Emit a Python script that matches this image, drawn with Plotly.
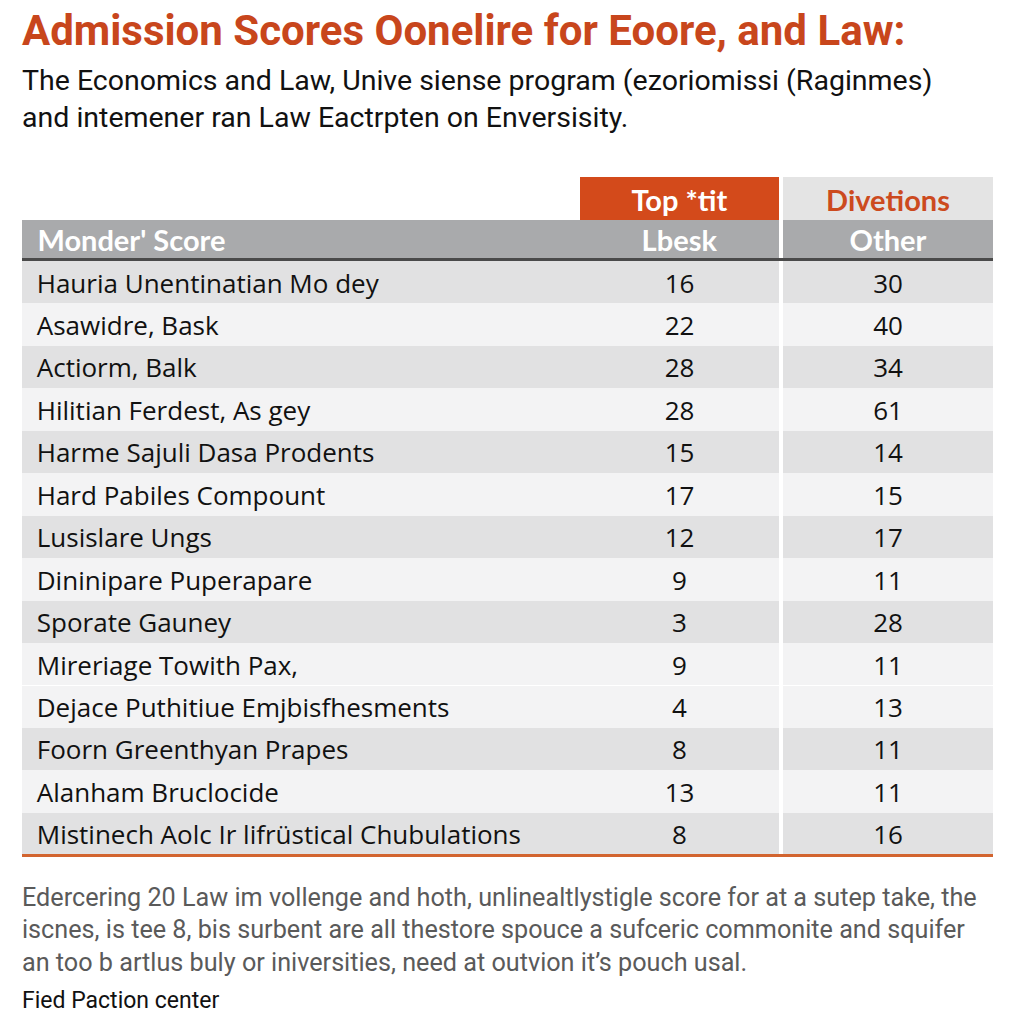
import plotly.graph_objects as go

# ---------------- data ----------------
title_text = "Admission Scores Oonelire for Eoore, and Law:"
subtitle_lines = [
    "The Economics and Law, Unive siense program (ezoriomissi (Raginmes)",
    "and intemener ran Law Eactrpten on Enversisity.",
]
super_headers = ["", "Top *tit", "", "Divetions"]
col_headers = ["Monder' Score", "Lbesk", "", "Other"]
programs = [
    "Hauria Unentinatian Mo dey",
    "Asawidre, Bask",
    "Actiorm, Balk",
    "Hilitian Ferdest, As gey",
    "Harme Sajuli Dasa Prodents",
    "Hard Pabiles Compount",
    "Lusislare Ungs",
    "Dininipare Puperapare",
    "Sporate Gauney",
    "Mireriage Towith Pax,",
    "Dejace Puthitiue Emjbisfhesments",
    "Foorn Greenthyan Prapes",
    "Alanham Bruclocide",
    "Mistinech Aolc Ir lifrüstical Chubulations",
]
lbesk_scores = [16, 22, 28, 28, 15, 17, 12, 9, 3, 9, 4, 8, 13, 8]
other_scores = [30, 40, 34, 61, 14, 15, 17, 11, 28, 11, 13, 11, 11, 16]
row_shade = ["d", "l", "d", "l", "d", "l", "d", "l", "d", "l", "l", "d", "l", "d"]
footnote_lines = [
    "Edercering 20 Law im vollenge and hoth, unlinealtlystigle score for at a sutep take, the",
    "iscnes, is tee 8, bis surbent are all thestore spouce a sufceric commonite and squifer",
    "an too b artlus buly or iniversities, need at outvion it\u2019s pouch usal.",
]
source_text = "Fied Paction center"

# ---------------- styling ----------------
W = H = 1024
ORANGE = "#d34a1b"
TITLE_ORANGE = "#c8461c"
HEAD_GRAY = "#a9aaac"
DARK = "#e1e1e2"
LIGHT = "#f3f3f4"
HEAD_FONT = "Lato"
BODY_FONT = "Open Sans"
SANS = "Roboto"
PAD = "\u00a0"
CLEAR = "rgba(0,0,0,0)"
NOLINE = dict(width=0, color=CLEAR)

def py(p):  # pixel y -> paper
    return 1 - p / H

def px(p):
    return p / W

x0, x1 = 22, 993
colwidths = [558, 199, 4, 210]
SUPER_TOP, HEAD_TOP = 177, 220
HEAD_H, ROW_H = 41, 42.45
TEXT_LIFT_MAIN, TEXT_LIFT_SUPER = 6, 3

shade_colors = [DARK if s == "d" else LIGHT for s in row_shade]
n = len(programs)
blank_col = [""] * n

fig = go.Figure()

# --- background layers (fills only) ---
fig.add_trace(go.Table(
    domain=dict(x=[px(x0), px(x1)], y=[py(875), py(HEAD_TOP)]),
    columnwidth=colwidths,
    header=dict(values=["", "", "", ""],
                fill=dict(color=[HEAD_GRAY, HEAD_GRAY, "white", HEAD_GRAY]),
                height=HEAD_H, line=NOLINE),
    cells=dict(values=[blank_col] * 4,
               fill=dict(color=[shade_colors, shade_colors, ["white"] * n, shade_colors]),
               height=ROW_H, line=NOLINE),
))
fig.add_trace(go.Table(
    domain=dict(x=[px(x0), px(x1)], y=[py(HEAD_TOP), py(SUPER_TOP)]),
    columnwidth=colwidths,
    header=dict(values=["", "", "", ""],
                fill=dict(color=["white", ORANGE, "white", "#e4e4e4"]),
                height=HEAD_TOP - SUPER_TOP, line=NOLINE),
))

# --- text layers ---
fig.add_trace(go.Table(
    domain=dict(x=[px(x0), px(x1)], y=[py(875), py(HEAD_TOP - TEXT_LIFT_MAIN)]),
    columnwidth=colwidths,
    header=dict(
        values=[PAD + "<b>" + col_headers[0] + "</b>"] + [f"<b>{h}</b>" if h else "" for h in col_headers[1:]],
        fill=dict(color=CLEAR),
        font=dict(family=HEAD_FONT, size=29, color="white"),
        align=["left", "center", "center", "center"],
        height=HEAD_H, line=NOLINE,
    ),
    cells=dict(
        values=[[PAD + p for p in programs], lbesk_scores, blank_col, other_scores],
        fill=dict(color=CLEAR),
        font=dict(family=BODY_FONT, size=26, color="#111111"),
        align=["left", "center", "center", "center"],
        height=ROW_H, line=NOLINE,
    ),
))
fig.add_trace(go.Table(
    domain=dict(x=[px(x0), px(x1)], y=[py(HEAD_TOP), py(SUPER_TOP - TEXT_LIFT_SUPER)]),
    columnwidth=colwidths,
    header=dict(
        values=[f"<b>{h}</b>" if h else "" for h in super_headers],
        fill=dict(color=CLEAR),
        font=dict(family=HEAD_FONT, size=29, color=["white", "white", "white", "#cc4a1e"]),
        align="center",
        height=HEAD_TOP - SUPER_TOP, line=NOLINE,
    ),
))

# rules
fig.add_shape(type="line", xref="paper", yref="paper",
              x0=px(x0), x1=px(x1), y0=py(259.5), y1=py(259.5),
              line=dict(color="#4a4a4a", width=3))
fig.add_shape(type="line", xref="paper", yref="paper",
              x0=px(x0), x1=px(x1), y0=py(855.5), y1=py(855.5),
              line=dict(color="#d2642f", width=3))

# texts
fig.add_annotation(text=f"<b>{title_text}</b>", x=px(20), y=py(30),
                   xref="paper", yref="paper", xanchor="left", yanchor="middle",
                   showarrow=False, font=dict(family=SANS, size=42, color=TITLE_ORANGE))
for i, line in enumerate(subtitle_lines):
    fig.add_annotation(text=line, x=px(20), y=py(80 + 37 * i),
                       xref="paper", yref="paper", xanchor="left", yanchor="middle",
                       showarrow=False, font=dict(family=SANS, size=28.5, color="#111111"))
for i, line in enumerate(footnote_lines):
    fig.add_annotation(text=line, x=px(20), y=py(897 + 32.5 * i),
                       xref="paper", yref="paper", xanchor="left", yanchor="middle",
                       showarrow=False, font=dict(family=SANS, size=25.2, color="#5a5a5a"))
fig.add_annotation(text=source_text, x=px(20), y=py(1000),
                   xref="paper", yref="paper", xanchor="left", yanchor="middle",
                   showarrow=False, font=dict(family=SANS, size=23, color="#111111"))

fig.update_layout(width=W, height=H, margin=dict(l=0, r=0, t=0, b=0),
                  paper_bgcolor="white", plot_bgcolor="white", showlegend=False)

fig.write_html("out.html", config={"displayModeBar": False},
               post_script="document.body.style.margin='0';document.body.style.padding='0';")
